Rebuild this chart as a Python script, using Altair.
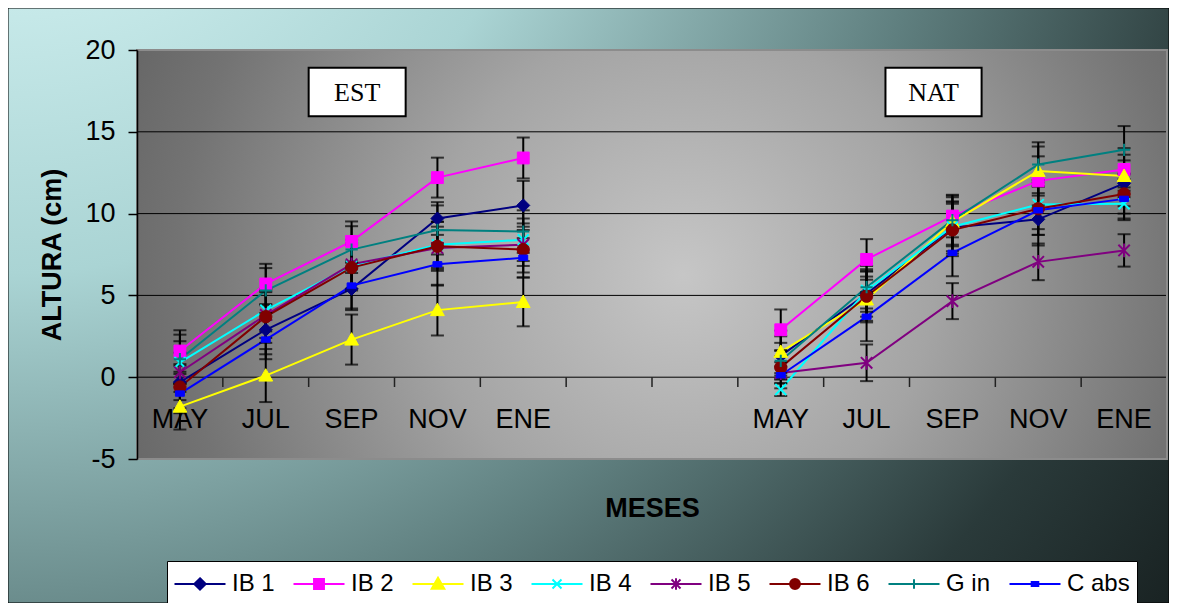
import altair as alt
import pandas as pd

# ---------------- data ----------------
MONTHS = ["MAY", "JUL", "SEP", "NOV", "ENE"]
PANELS = ["EST", "NAT"]
PANEL_SLOTS = {"EST": [0, 1, 2, 3, 4], "NAT": [7, 8, 9, 10, 11]}
N_SLOTS = 12
SERIES = ["IB 1", "IB 2", "IB 3", "IB 4", "IB 5", "IB 6", "G in", "C abs"]

EST_VALUES = {
    "IB 1": [-0.3, 2.9, 5.4, 9.7, 10.5],
    "IB 2": [1.6, 5.7, 8.3, 12.2, 13.4],
    "IB 3": [-1.8, 0.1, 2.3, 4.1, 4.6],
    "IB 4": [0.9, 4.1, 6.8, 8.1, 8.4],
    "IB 5": [0.3, 3.8, 6.9, 7.9, 8.1],
    "IB 6": [-0.6, 3.7, 6.7, 8.0, 7.8],
    "G in": [1.1, 5.3, 7.8, 9.0, 8.9],
    "C abs": [-1.0, 2.3, 5.6, 6.9, 7.3],
}
EST_ERRORS = {
    "IB 1": [1.1, 1.5, 1.3, 1.0, 1.5],
    "IB 2": [1.27, 1.23, 1.22, 1.22, 1.25],
    "IB 3": [1.4, 1.62, 1.53, 1.55, 1.49],
    "IB 4": [1.3, 1.3, 1.4, 1.4, 1.3],
    "IB 5": [1.2, 1.4, 1.5, 1.3, 1.3],
    "IB 6": [1.3, 1.6, 1.4, 1.5, 1.4],
    "G in": [1.5, 1.37, 1.43, 1.5, 1.3],
    "C abs": [1.2, 1.2, 1.4, 1.3, 1.2],
}
NAT_VALUES = {
    "IB 1": [1.3, 5.1, 9.15, 9.65, 11.85],
    "IB 2": [2.9, 7.2, 9.85, 12.0, 12.7],
    "IB 3": [1.55, 4.75, 9.5, 12.6, 12.3],
    "IB 4": [-0.75, 5.3, 9.2, 10.55, 10.6],
    "IB 5": [0.25, 0.88, 4.65, 7.05, 7.75],
    "IB 6": [0.6, 4.95, 9.0, 10.3, 11.2],
    "G in": [1.0, 5.5, 9.6, 13.0, 13.9],
    "C abs": [0.12, 3.7, 7.6, 10.2, 10.9],
}
NAT_ERRORS = {
    "IB 1": [1.2, 1.4, 1.6, 1.6, 1.4],
    "IB 2": [1.24, 1.24, 1.3, 1.5, 1.3],
    "IB 3": [1.3, 1.4, 1.5, 1.5, 1.3],
    "IB 4": [0.4, 1.3, 1.5, 1.5, 1.0],
    "IB 5": [0.4, 1.12, 1.1, 1.12, 0.99],
    "IB 6": [1.0, 1.5, 1.6, 1.6, 1.2],
    "G in": [1.1, 1.3, 1.5, 1.36, 1.45],
    "C abs": [0.8, 1.5, 1.43, 1.5, 1.2],
}
Y_TICKS = [-5, 0, 5, 10, 15, 20]
GRID_Y = [0, 5, 10, 15]

# annotation boxes (slot units / y units)
BOXES = [
    {"label": "EST", "x0": 2.0, "x1": 3.13, "y0": 15.95, "y1": 18.92},
    {"label": "NAT", "x0": 8.72, "x1": 9.84, "y0": 15.95, "y1": 18.92},
]

# ---------------- styles ----------------
FONT = "Liberation Sans"
SERIF = "Liberation Serif"
COLORS = ["#000080", "#FF00FF", "#FFFF00", "#00FFFF", "#800080", "#800000", "#008080", "#0000FF"]
FILLS = ["#000080", "#FF00FF", "#FFFF00", "transparent", "transparent", "#800000", "transparent", "#0000FF"]
MARKERS = [
    "M0,-1L1,0L0,1L-1,0Z",
    "M-1,-1L1,-1L1,1L-1,1Z",
    "M0,-1L1,0.8L-1,0.8Z",
    "M-1,-1L1,1M-1,1L1,-1",
    "M-1,-1L1,1M-1,1L1,-1M0,-1.2L0,1.2",
    "M-1,0A1,1 0 1,0 1,0A1,1 0 1,0 -1,0Z",
    "M-1,0L1,0M0,-1L0,1",
    "M-1,-0.6L1,-0.6L1,0.6L-1,0.6Z",
]
MARKER_SIZES = [170, 140, 190, 120, 130, 150, 150, 80]
MARKER_SW = [1, 1, 1, 2, 2, 1, 2, 1]
# legend symbols: unit = 15 px (symbol size 30 px), line spans +-1.7 units
LEG_MARK = [
    "M0,-0.38L0.38,0L0,0.38L-0.38,0Z",
    "M-0.33,-0.33L0.33,-0.33L0.33,0.33L-0.33,0.33Z",
    "M0,-0.42L0.42,0.32L-0.42,0.32Z",
    "M-0.3,-0.3L0.3,0.3M-0.3,0.3L0.3,-0.3",
    "M-0.3,-0.3L0.3,0.3M-0.3,0.3L0.3,-0.3M0,-0.38L0,0.38",
    "M-0.33,0A0.33,0.33 0 1,0 0.33,0A0.33,0.33 0 1,0 -0.33,0Z",
    "M-0.32,0L0.32,0M0,-0.32L0,0.32",
    "M-0.22,-0.13L0.22,-0.13L0.22,0.13L-0.22,0.13Z",
]
LEG_SHAPES = ["M-1.7,0L1.7,0" + m for m in LEG_MARK]

W, H = 1030, 409
PAD = {"left": 129, "top": 42, "right": 2, "bottom": 144}

# ---------------- tables ----------------
rows = []
for panel, vals, errs in [("EST", EST_VALUES, EST_ERRORS), ("NAT", NAT_VALUES, NAT_ERRORS)]:
    for s in SERIES:
        for i, m in enumerate(MONTHS):
            v = vals[s][i]
            e = errs[s][i]
            rows.append({"series": s, "panel": panel, "month": m,
                         "x": PANEL_SLOTS[panel][i] + 0.5, "value": v,
                         "lo": v - e, "hi": v + e})
df = pd.DataFrame(rows)

labels_df = pd.DataFrame([{"x": PANEL_SLOTS[p][i] + 0.5, "y": 0, "text": m}
                          for p in PANELS for i, m in enumerate(MONTHS)])
grid_df = pd.DataFrame({"y": GRID_Y, "x0": 0, "x1": N_SLOTS})
ticks_df = pd.DataFrame({"x": list(range(1, N_SLOTS)), "y0": 0.0, "y1": -0.6})
box_df = pd.DataFrame(BOXES)
box_df["xc"] = (box_df.x0 + box_df.x1) / 2
box_df["yc"] = (box_df.y0 + box_df.y1) / 2
frame_df = pd.DataFrame([{"x0": 0, "x1": N_SLOTS, "y0": Y_TICKS[0], "y1": Y_TICKS[-1]}])
legend_df = pd.DataFrame({"series": SERIES})
one = pd.DataFrame([{"a": 0}])

xs = alt.Scale(domain=[0, N_SLOTS], nice=False, zero=False)
ys = alt.Scale(domain=[Y_TICKS[0], Y_TICKS[-1]], nice=False, zero=False)

XAXIS = alt.Axis(
    labels=False, ticks=False, domain=False, grid=False, title="MESES",
    titleFont=FONT, titleFontSize=27, titleFontWeight="bold", titleColor="black",
    titleY=49, titleBaseline="middle", zindex=2)
YAXIS = alt.Axis(
    values=Y_TICKS, grid=False, tickSize=9, tickColor="black", tickWidth=1.5,
    domainColor="black", domainWidth=1.5, labelFont=FONT, labelFontSize=27,
    labelColor="black", labelPadding=13, labelExpr="'' + datum.value",
    title="ALTURA (cm)", titleFont=FONT,
    titleFontSize=27, titleFontWeight="bold", titleColor="black", titleAngle=270,
    titleX=-85, titleY=H / 2, titleAlign="center", titleBaseline="middle", zindex=2)


def xe(field):
    return alt.X(field + ":Q", scale=xs, axis=XAXIS, title="MESES")


def ye(field):
    return alt.Y(field + ":Q", scale=ys, axis=YAXIS, title="ALTURA (cm)")


outer_grad = alt.RadialGradient(
    gradient="radial", x1=0, y1=0, r1=0, x2=0, y2=0, r2=1.35,
    stops=[alt.GradientStop(color="#e4ffff", offset=0),
           alt.GradientStop(color="#aad4d4", offset=0.35),
           alt.GradientStop(color="#5f7f7f", offset=0.6),
           alt.GradientStop(color="#2a3a3a", offset=0.8),
           alt.GradientStop(color="#101616", offset=1)])
plot_grad = alt.RadialGradient(
    gradient="radial", x1=0.53, y1=0.52, r1=0, x2=0.53, y2=0.52, r2=0.7,
    stops=[alt.GradientStop(color="#c6c6c6", offset=0),
           alt.GradientStop(color="#a4a4a4", offset=0.35),
           alt.GradientStop(color="#737373", offset=0.7),
           alt.GradientStop(color="#555555", offset=1)])

outer = alt.Chart(one).mark_rect(fill=outer_grad, stroke="black", strokeWidth=1).encode(
    x=alt.value(-PAD["left"]), x2=alt.value(W + PAD["right"]),
    y=alt.value(-PAD["top"]), y2=alt.value(H + PAD["bottom"]))

plot_bg = alt.Chart(frame_df).mark_rect(fill=plot_grad).encode(
    x=xe("x0"), x2="x1:Q", y=ye("y0"), y2="y1:Q")

grid = alt.Chart(grid_df).mark_rule(color="black", strokeWidth=1).encode(
    x=xe("x0"), x2="x1:Q", y=ye("y"))

cat_ticks = alt.Chart(ticks_df).mark_rule(color="#222222", strokeWidth=1.5).encode(
    x=xe("x"), y=ye("y0"), y2="y1:Q")

cat_labels = alt.Chart(labels_df).mark_text(
    font=FONT, fontSize=27, color="black", dy=43, baseline="middle", align="center").encode(
    x=xe("x"), y=ye("y"), text="text:N")

boxes = alt.Chart(box_df).mark_rect(fill="white", stroke="black", strokeWidth=2).encode(
    x=xe("x0"), x2="x1:Q", y=ye("y0"), y2="y1:Q")
box_text = alt.Chart(box_df).mark_text(
    font=SERIF, fontSize=26, color="black", baseline="middle", align="center", dy=1).encode(
    x=xe("xc"), y=ye("yc"), text="label:N")

frame = alt.Chart(frame_df).mark_rect(fill="transparent", stroke="#8c8c8c", strokeWidth=2).encode(
    x=xe("x0"), x2="x1:Q", y=ye("y0"), y2="y1:Q")

stroke_scale = alt.Scale(domain=SERIES, range=COLORS)
fill_scale = alt.Scale(domain=SERIES, range=FILLS)
shape_scale = alt.Scale(domain=SERIES, range=LEG_SHAPES)

leg = alt.Legend(title=None, orient="none", legendX=30, legendY=511, direction="horizontal",
                 columns=8, fillColor="white", strokeColor="black", padding=7,
                 symbolSize=900, symbolStrokeWidth=2, symbolOffset=10,
                 labelFont=FONT, labelFontSize=24,
                 labelColor="black", labelOffset=16, columnPadding=14, labelLimit=0, zindex=2)

lines = alt.Chart(df).mark_line(strokeWidth=2).encode(
    x=xe("x"), y=ye("value"),
    stroke=alt.Stroke("series:N", scale=stroke_scale, legend=leg),
    detail="panel:N", order="x:Q")

err_rules = alt.Chart(df).mark_rule(color="black", strokeWidth=2).encode(
    x=xe("x"), y=ye("lo"), y2="hi:Q")
err_lo = alt.Chart(df).mark_tick(color="black", orient="horizontal", size=13, thickness=2).encode(
    x=xe("x"), y=ye("lo"))
err_hi = alt.Chart(df).mark_tick(color="black", orient="horizontal", size=13, thickness=2).encode(
    x=xe("x"), y=ye("hi"))

markers = []
for i, s in enumerate(SERIES):
    markers.append(
        alt.Chart(df).transform_filter(alt.datum.series == s).mark_point(
            shape=MARKERS[i], size=MARKER_SIZES[i], fill=FILLS[i], stroke=COLORS[i],
            strokeWidth=MARKER_SW[i], opacity=1).encode(x=xe("x"), y=ye("value")))

legend_layer = alt.Chart(legend_df).mark_point(size=900, strokeWidth=2, opacity=1).encode(
    x=alt.value(-3000), y=alt.value(-3000),
    stroke=alt.Stroke("series:N", scale=stroke_scale, legend=leg),
    fill=alt.Fill("series:N", scale=fill_scale, legend=leg),
    shape=alt.Shape("series:N", scale=shape_scale, legend=leg))

chart = alt.layer(
    outer, plot_bg, grid, cat_ticks, cat_labels, boxes, box_text, frame,
    lines, err_rules, err_lo, err_hi, *markers, legend_layer
).properties(
    width=W, height=H, padding=PAD, autosize=alt.AutoSizeParams(type="none")
).configure_view(stroke=None)

chart.save("out.html", embed_options={"renderer": "svg", "actions": False})
